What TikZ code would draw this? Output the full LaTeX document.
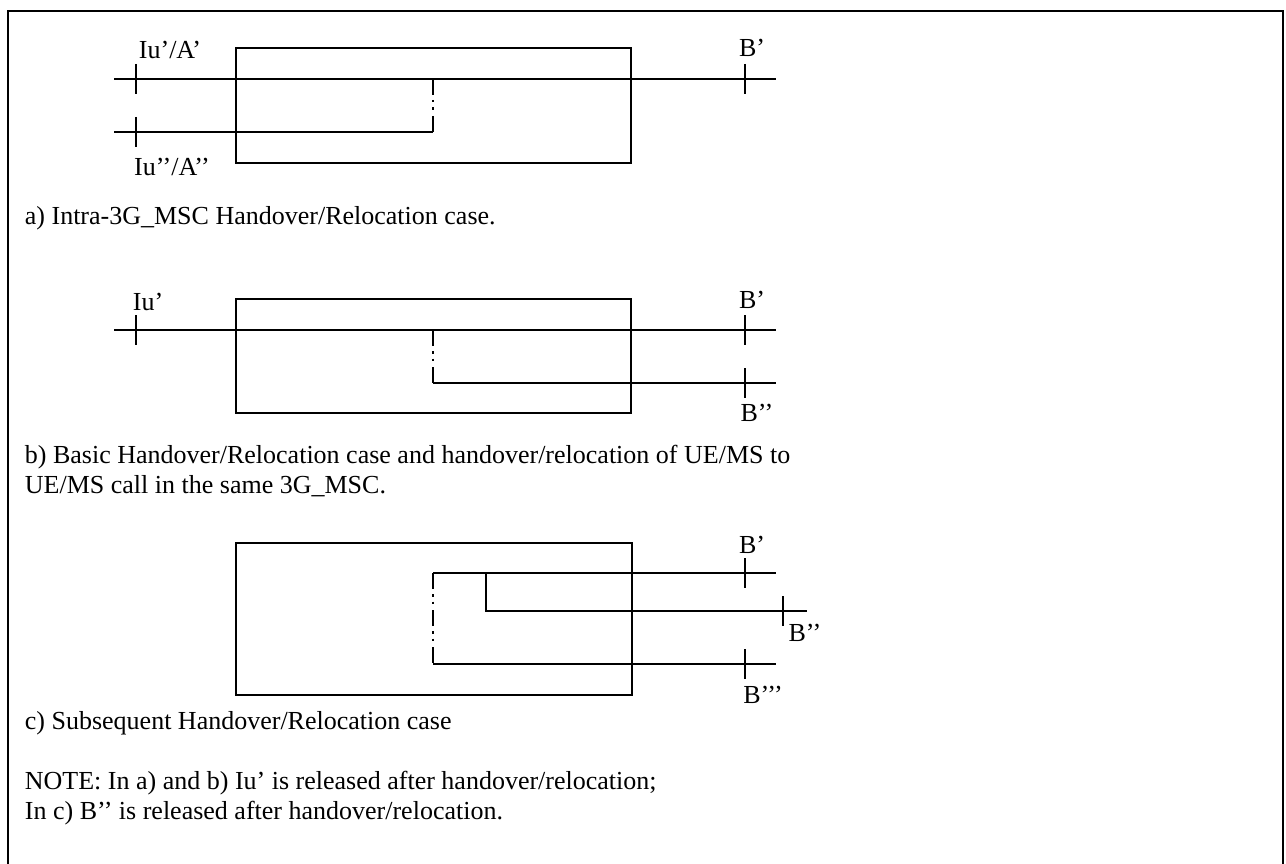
\documentclass[tikz,border=0pt]{standalone}
\usepackage{fontspec}
\setmainfont{Liberation Serif}
\begin{document}
\begin{tikzpicture}[x=1pt,y=-1pt,line width=1.8pt,
    lbl/.style={inner sep=0pt,font=\fontsize{26}{30}\selectfont},
    caption/.style={anchor=base west,inner sep=0pt,align=left,
        font=\fontsize{26}{30}\selectfont}]
    \tikzstyle{msc}=[draw,line width=1.8pt]
    \tikzstyle{split}=[line width=1.8pt,
        dash pattern=on 16pt off 5pt on 2.5pt off 5pt on 2.5pt off 6pt]

    \useasboundingbox (0,0) rectangle (1286,864);
    \draw[line width=2pt] (8,11) rectangle (1283,880);

    % a) intra 3G_MSC
    \draw[msc] (236,48) rectangle (631,163);
    \draw (114,79) -- (776,79);
    \draw (114,132) -- (433,132);
    \draw[split] (433,79) -- (433,132);
    \draw (136,64) -- (136,94);
    \draw (136,117) -- (136,147);
    \draw (745,64) -- (745,94);
    \node[lbl] (iuA) at (170,50) {Iu’/A’};
    \node[lbl] (iuAA) at (172,167) {Iu’’/A’’};
    \node[lbl] (bA) at (752,48) {B’};
    \node[caption] (capA) at (24,225) {a) Intra-3G\_MSC Handover/Relocation case.};

    % b) basic
    \draw[msc] (236,299) rectangle (631,413);
    \draw (114,330) -- (776,330);
    \draw[split] (433,330) -- (433,383);
    \draw (433,383) -- (776,383);
    \draw (136,315) -- (136,345);
    \draw (745,315) -- (745,345);
    \draw (745,368) -- (745,398);
    \node[lbl] (iuB) at (148,302) {Iu’};
    \node[lbl] (bB) at (752,300) {B’};
    \node[lbl] (bBB) at (757,413) {B’’};
    \node[caption] (capB) at (24,493) {b) Basic Handover/Relocation case and handover/relocation of UE/MS to\\
        UE/MS call in the same 3G\_MSC.};

    % c) subsequent
    \draw[msc] (236,543) rectangle (632,695);
    \draw (433,573) -- (776,573);
    \draw (486,573) -- (486,611) -- (807,611);
    \draw[split] (433,573) -- (433,664);
    \draw (433,664) -- (776,664);
    \draw (745,558) -- (745,588);
    \draw (783,596) -- (783,626);
    \draw (745,649) -- (745,679);
    \node[lbl] (bC) at (752,545) {B’};
    \node[lbl] (bCC) at (805,633) {B’’};
    \node[lbl] (bCCC) at (763,695) {B’’’};
    \node[caption] (capC) at (24,729) {c) Subsequent Handover/Relocation case};

    \node[caption] (note) at (24,819) {NOTE: In a) and b) Iu’ is released after handover/relocation;\\
        In c) B’’ is released after handover/relocation.};

\end{tikzpicture}
\end{document}
